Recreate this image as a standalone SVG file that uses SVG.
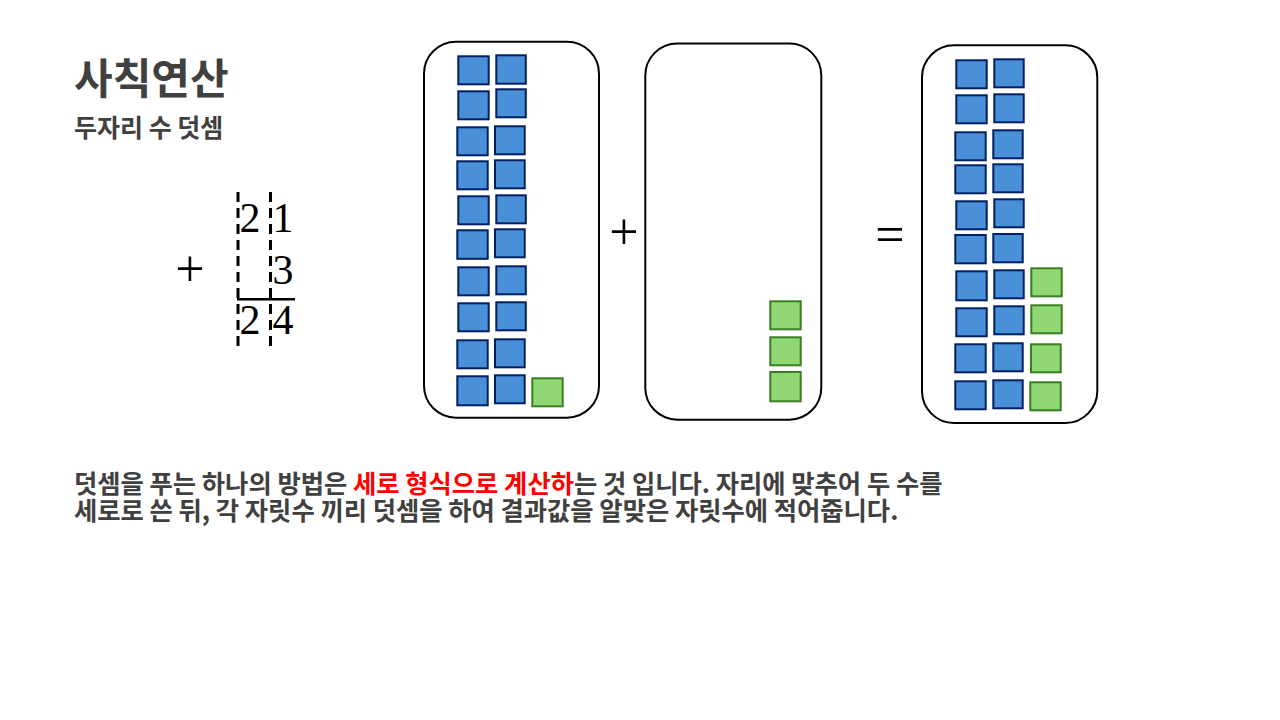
<svg xmlns="http://www.w3.org/2000/svg" width="1280" height="720" viewBox="0 0 1280 720">
<style>
.t{font-family:"Noto Sans CJK KR","Noto Sans",sans-serif;fill:#404040;font-weight:bold}
.m{font-family:"Liberation Serif",serif;fill:#000}
.box{fill:#fff;stroke:#000;stroke-width:2}
.b{fill:#4a90d9;stroke:#002060;stroke-width:2}
.g{fill:#8fd873;stroke:#3b7d23;stroke-width:2}
.dash{stroke:#000;stroke-width:3;stroke-dasharray:10 6;fill:none}
.red{fill:#ff0000}
</style>
<rect width="1280" height="720" fill="#fff"/>
<g id="title">
<text class="t" x="74" y="94" font-size="42">사칙연산</text>
<text class="t" x="74" y="137" font-size="25">두자리 수 덧셈</text>
</g>
<g id="math">
<line class="dash" x1="238" y1="192" x2="238" y2="346"/>
<line class="dash" x1="270.5" y1="192" x2="270.5" y2="346"/>
<line x1="237" y1="299.3" x2="295" y2="299.3" stroke="#000" stroke-width="2.5"/>
<text class="m" x="190" y="286" font-size="52" text-anchor="middle">+</text>
<text class="m" x="250" y="232" font-size="42" text-anchor="middle">2</text>
<text class="m" x="283" y="232" font-size="42" text-anchor="middle">1</text>
<text class="m" x="283" y="283.5" font-size="42" text-anchor="middle">3</text>
<text class="m" x="250" y="334" font-size="42" text-anchor="middle">2</text>
<text class="m" x="283" y="334" font-size="42" text-anchor="middle">4</text>
</g>
<g id="box1">
<rect class="box" x="424" y="41.7" width="175" height="376" rx="32"/>
<rect class="b" x="458.3" y="56.3" width="30.4" height="28"/>
<rect class="b" x="458.3" y="91.3" width="30.4" height="28"/>
<rect class="b" x="457.3" y="127.3" width="30.4" height="28"/>
<rect class="b" x="457.3" y="161.3" width="30.4" height="28"/>
<rect class="b" x="458.3" y="196.3" width="30.4" height="28"/>
<rect class="b" x="457.3" y="230.3" width="30.4" height="28.5"/>
<rect class="b" x="458.3" y="267.3" width="30.4" height="28"/>
<rect class="b" x="458.3" y="303.3" width="30.4" height="28"/>
<rect class="b" x="457.3" y="340.3" width="30.4" height="28"/>
<rect class="b" x="457.3" y="376.3" width="30.4" height="29"/>
<rect class="b" x="496.3" y="55.3" width="29.5" height="28.4"/>
<rect class="b" x="496.3" y="89.3" width="29.5" height="28"/>
<rect class="b" x="495" y="126.3" width="29.7" height="28"/>
<rect class="b" x="495" y="160.3" width="29.7" height="28"/>
<rect class="b" x="496.3" y="195.3" width="29.5" height="28"/>
<rect class="b" x="495" y="229.3" width="29.7" height="28"/>
<rect class="b" x="496.3" y="266.3" width="29.5" height="28"/>
<rect class="b" x="496.3" y="302.3" width="29.5" height="28"/>
<rect class="b" x="495" y="339.3" width="29.7" height="28"/>
<rect class="b" x="495" y="375.3" width="29.7" height="28"/>
<rect class="g" x="532.3" y="378.3" width="30.4" height="28"/>
</g>
<g id="plus">
<text class="m" x="624" y="249" font-size="52" text-anchor="middle">+</text>
</g>
<g id="box2">
<rect class="box" x="645.3" y="43.5" width="176" height="376.2" rx="32"/>
<rect class="g" x="770.3" y="301.3" width="30.4" height="28"/>
<rect class="g" x="770.3" y="337.3" width="30.4" height="28"/>
<rect class="g" x="770.3" y="372" width="30.4" height="29.3"/>
</g>
<g id="equals">
<text class="m" x="890" y="252" font-size="52" text-anchor="middle">=</text>
</g>
<g id="box3">
<rect class="box" x="922" y="45.3" width="175.3" height="377.7" rx="32"/>
<rect class="b" x="956.3" y="60.3" width="30.4" height="28"/>
<rect class="b" x="956.3" y="95.3" width="30.4" height="28"/>
<rect class="b" x="955.3" y="132.3" width="30.4" height="28"/>
<rect class="b" x="955.3" y="165.3" width="30.4" height="28"/>
<rect class="b" x="956.3" y="201.3" width="30.4" height="28"/>
<rect class="b" x="955.3" y="235" width="30.4" height="28.3"/>
<rect class="b" x="956.3" y="271.3" width="30.4" height="29"/>
<rect class="b" x="956.3" y="308.3" width="30.4" height="28"/>
<rect class="b" x="955.3" y="344.3" width="30.4" height="28"/>
<rect class="b" x="955.3" y="381.3" width="30.4" height="28"/>
<rect class="b" x="994.3" y="59.3" width="29.4" height="28"/>
<rect class="b" x="994.3" y="94.3" width="29.4" height="28"/>
<rect class="b" x="993.3" y="130.3" width="29.4" height="28"/>
<rect class="b" x="993.3" y="164.3" width="29.4" height="28"/>
<rect class="b" x="994.3" y="199.3" width="29.4" height="28"/>
<rect class="b" x="993.3" y="234" width="29.4" height="28.3"/>
<rect class="b" x="994.3" y="270.3" width="29.4" height="28"/>
<rect class="b" x="994.3" y="306.3" width="29.4" height="28"/>
<rect class="b" x="993.3" y="343.3" width="29.4" height="28"/>
<rect class="b" x="993.3" y="380.3" width="29.4" height="28"/>
<rect class="g" x="1031.3" y="268.3" width="30.4" height="28"/>
<rect class="g" x="1031.3" y="305.3" width="30.4" height="28"/>
<rect class="g" x="1031" y="344.3" width="29.7" height="28"/>
<rect class="g" x="1030.3" y="382.3" width="30.4" height="28"/>
</g>
<g id="body">
<text class="t" x="74" y="493" font-size="25.3">덧셈을 푸는 하나의 방법은 <tspan class="red">세로 형식으로 계산하</tspan>는 것 입니다. 자리에 맞추어 두 수를</text>
<text class="t" x="74" y="520" font-size="25.3">세로로 쓴 뒤, 각 자릿수 끼리 덧셈을 하여 결과값을 알맞은 자릿수에 적어줍니다.</text>
</g>
</svg>
